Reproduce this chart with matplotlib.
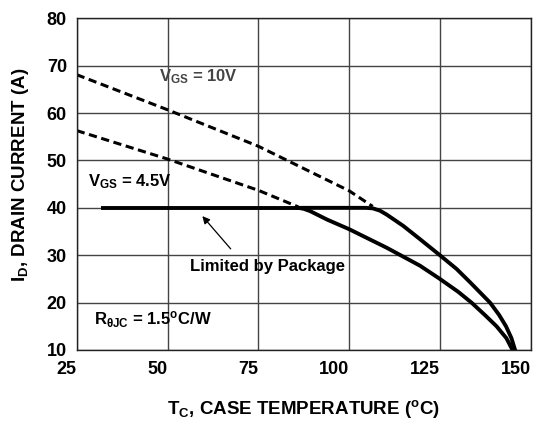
import matplotlib
matplotlib.use("Agg")
import matplotlib.pyplot as plt

plt.rcParams['font.family'] = ['Liberation Sans', 'DejaVu Sans']
plt.rcParams['mathtext.fontset'] = 'custom'
plt.rcParams['mathtext.rm'] = 'Liberation Sans:bold'
plt.rcParams['mathtext.bf'] = 'Liberation Sans:bold'
plt.rcParams['mathtext.it'] = 'Liberation Sans:bold'

# Data
x_ticks = [25, 50, 75, 100, 125, 150]
y_ticks = [10, 20, 30, 40, 50, 60, 70, 80]

vgs10_dash_t = [25, 50, 75, 100, 106.5]
vgs10_dash_i = [68.1, 60.7, 53.0, 43.6, 40.3]
vgs45_dash_t = [25, 50, 75, 86]
vgs45_dash_i = [56.3, 50.3, 43.7, 40.2]

pkg_t = [31.7, 86]
pkg_i = [40, 40]

vgs10_t = [86, 104.5, 106.5, 108.5, 110.3, 114.9, 119.5, 125, 129.6, 133.3,
           136.5, 138.8, 141.3, 143.2, 144.7, 145.7]
vgs10_i = [40, 40, 39.9, 39.4, 38.6, 36.2, 33.4, 30.0, 27.1, 24.3,
           21.8, 20.0, 17.4, 15.0, 12.5, 10]
vgs45_t = [86, 87.5, 89.3, 94, 100, 110.3, 119.5, 125, 130, 133.7, 137.5,
           140.6, 143.3, 145.0]
vgs45_i = [40, 39.8, 39.3, 37.5, 35.5, 31.6, 27.8, 25.0, 22.3, 20.0, 17.3,
           15.0, 12.5, 10]

fig = plt.figure(figsize=(5.42, 4.23), dpi=100)
ax = fig.add_axes([76.7/542, 1-350/423, 454/542, 331.7/423])
ax.set_xlim(25, 150)
ax.set_ylim(10, 80)
ax.set_xticks(x_ticks)
ax.set_yticks(y_ticks)
ax.tick_params(axis='x', length=0, labelsize=13, pad=8)
ax.tick_params(axis='y', length=0, labelsize=13, pad=7)
for lab in ax.get_xticklabels() + ax.get_yticklabels():
    lab.set_fontweight('bold')
for lab in ax.get_xticklabels():
    lab.set_horizontalalignment('right')
ax.grid(True, color='#444444', linewidth=1.0)
for s in ax.spines.values():
    s.set_linewidth(1.0)
    s.set_color('#222222')

dash = (0, (2.7, 1.5))
ax.plot(vgs10_dash_t, vgs10_dash_i, color='black', lw=2.2, ls=dash)
ax.plot(vgs45_dash_t, vgs45_dash_i, color='black', lw=2.2, ls=dash)
ax.plot(pkg_t, pkg_i, color='black', lw=2.8, solid_capstyle='butt')
ax.plot(vgs10_t, vgs10_i, color='black', lw=2.8, solid_joinstyle='round')
ax.plot(vgs45_t, vgs45_i, color='black', lw=2.8, solid_joinstyle='round')

fs = 12
ax.text(47.7, 66.6, r"V$_{\mathrm{GS}}$ = 10V", fontsize=fs, fontweight='bold',
        color='#444444', va='baseline')
ax.text(28.2, 44.6, r"V$_{\mathrm{GS}}$ = 4.5V", fontsize=fs, fontweight='bold', va='baseline')
ax.text(56.2, 26.7, "Limited by Package", fontsize=fs, fontweight='bold', va='baseline')
ax.annotate("", xy=(59.1, 38.7), xytext=(67.9, 30.9),
            arrowprops=dict(arrowstyle='-|>', color='black', lw=0.9, mutation_scale=11))
ax.text(29.8, 15.3, r"R$_{\mathrm{\theta JC}}$ = 1.5$^{\mathrm{o}}$C/W", fontsize=fs,
        fontweight='bold', va='baseline')

fig.text(303.7/542, 1-414/423, r"T$_{\mathrm{C}}$, CASE TEMPERATURE ($^{\mathrm{o}}$C)",
         fontsize=13.5, fontweight='bold', ha='center', va='baseline')
fig.text(21/542, 1-175/423, r"I$_{\mathrm{D}}$, DRAIN CURRENT (A)", fontsize=13.5,
         fontweight='bold', ha='center', va='center', rotation=90)

fig.savefig("out.png", dpi=100)
